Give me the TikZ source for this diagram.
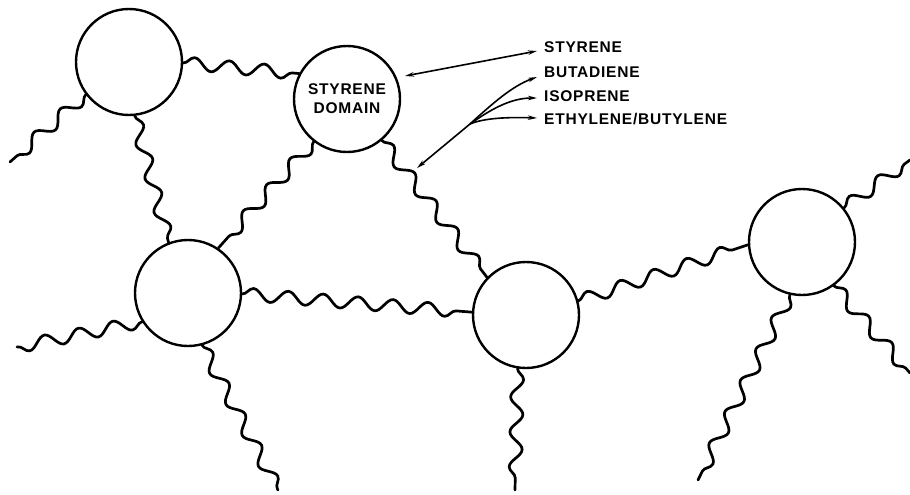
\documentclass[tikz,border=0pt]{standalone}
\usepackage{fontspec}
\newfontfamily\labfont[LetterSpace=5]{Liberation Sans}
\usetikzlibrary{decorations.pathmorphing,arrows.meta}
\begin{document}
\begin{tikzpicture}[x=1pt,y=-1pt,
  dom/.style={circle,draw,line width=2.4pt,minimum size=106pt,inner sep=0pt,
    font=\labfont\bfseries\fontsize{15.5}{19}\selectfont,align=center},
  chain/.style={line width=2.7pt,line cap=round,decorate,
    decoration={snake,segment length=35pt,amplitude=6.3pt}},
  lab/.style={anchor=west,inner sep=0pt,font=\labfont\bfseries\fontsize{15.5}{19}\selectfont},
  ptr/.style={line width=1.6pt,-{Stealth[length=9pt,width=4.5pt]}},
  dptr/.style={line width=1.6pt,{Stealth[length=9pt,width=4.5pt]}-{Stealth[length=9pt,width=4.5pt]}}]
\useasboundingbox (0,0) rectangle (910,495);

% domains
\node[dom] (c1) at (129,62) {};
\node[dom] (c2) at (347,99) {STYRENE\\DOMAIN};
\node[dom] (c3) at (188,293) {};
\node[dom] (c4) at (526,315) {};
\node[dom] (c5) at (802,242) {};

% free chain ends
\coordinate (e1) at (10,162);
\coordinate (e2) at (17,347);
\coordinate (e3) at (278,490);
\coordinate (e4) at (515,490);
\coordinate (e5) at (698,480);
\coordinate (e6) at (910,373);
\coordinate (e7) at (910,160);

% chains
\draw[chain] (c1.-1) -- (c2.152);
\draw[chain] (c1.217) -- (e1);
\draw[chain] (c1.-84) -- (c3.111);
\draw[chain] (c2.-128) -- (c3.56);
\draw[chain] (c2.-50) -- (c4.136);
\draw[chain] (c3.-1) -- (c4.177);
\draw[chain] (c3.212) -- (e2);
\draw[chain] (c3.-75) -- (e3);
\draw[chain] (c4.261) -- (e4);
\draw[chain] (c4.15) -- (c5.183);
\draw[chain] (c5.257) -- (e5);
\draw[chain] (c5.-54) -- (e6);
\draw[chain] (c5.39) -- (e7);

% labels
\node[lab] (ls) at (544,47) {STYRENE};
\node[lab] (lb) at (544,72) {BUTADIENE};
\node[lab] (li) at (544,96) {ISOPRENE};
\node[lab] (le) at (544,119) {ETHYLENE/BUTYLENE};

% arrows
\coordinate (sl) at (405,76);
\coordinate (jn) at (470,124);
\coordinate (bt) at (417,168);
\draw[dptr] (sl) -- ([shift={(-7,4)}]ls.west);
\draw[ptr] (jn) -- (bt);
\draw[ptr] (jn) .. controls (492,104) and (512,86) .. ([shift={(-7,5)}]lb.west);
\draw[ptr] (jn) .. controls (490,110) and (510,98) .. ([shift={(-7,2)}]li.west);
\draw[ptr] (jn) .. controls (484,118) and (508,117) .. ([shift={(-7,-1)}]le.west);
\end{tikzpicture}
\end{document}
